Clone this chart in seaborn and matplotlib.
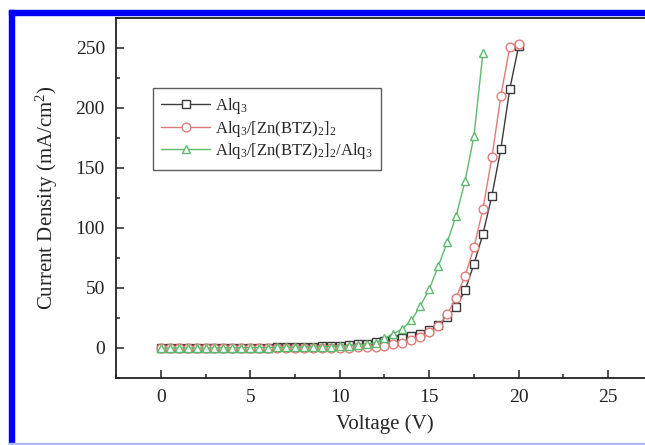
import numpy as np
import pandas as pd
import matplotlib
matplotlib.use("Agg")
import matplotlib.pyplot as plt
from matplotlib.patches import Rectangle
from matplotlib.ticker import MultipleLocator
import seaborn as sns

# ---- data (current density in mA/cm^2) ----
voltage = [0.0, 0.5, 1.0, 1.5, 2.0, 2.5, 3.0, 3.5, 4.0, 4.5, 5.0, 5.5, 6.0, 6.5,
           7.0, 7.5, 8.0, 8.5, 9.0, 9.5, 10.0, 10.5, 11.0, 11.5, 12.0, 12.5,
           13.0, 13.5, 14.0, 14.5, 15.0, 15.5, 16.0, 16.5, 17.0, 17.5, 18.0,
           18.5, 19.0, 19.5, 20.0]

alq3 = [0.0, 0.0, 0.0, 0.0, 0.0, 0.0, 0.0, 0.1, 0.1, 0.2, 0.2, 0.3, 0.4, 0.5,
        0.6, 0.8, 1.0, 1.2, 1.4, 1.7, 2.0, 2.4, 3.0, 3.7, 4.6, 5.8, 7.2, 8.7,
        10.0, 12.0, 15.0, 19.0, 26.0, 34.0, 48.0, 70.0, 95.0, 127.0, 166.0,
        216.0, 252.0]

alq3_zn = [0.0, 0.0, 0.0, 0.0, 0.0, 0.0, 0.0, 0.0, 0.0, 0.0, 0.0, 0.0, 0.0,
           0.0, 0.0, 0.0, 0.0, 0.0, 0.0, 0.1, 0.2, 0.3, 0.5, 0.8, 1.2, 2.0,
           3.0, 4.5, 7.0, 9.0, 13.0, 18.0, 28.0, 42.0, 60.0, 84.0, 116.0,
           159.0, 210.0, 251.0, 253.0]

voltage_green = voltage[:37]
alq3_zn_alq3 = [0.0, 0.0, 0.0, 0.0, 0.0, 0.0, 0.1, 0.1, 0.2, 0.2, 0.3, 0.3,
                0.4, 0.5, 0.6, 0.7, 0.8, 0.9, 1.0, 1.2, 1.5, 2.0, 2.5, 3.2,
                4.5, 8.0, 12.0, 16.0, 23.0, 35.0, 49.0, 68.0, 88.0, 110.0,
                139.0, 177.0, 246.0]

labels = [r"Alq$_3$",
          r"Alq$_3$/[Zn(BTZ)$_2$]$_2$",
          r"Alq$_3$/[Zn(BTZ)$_2$]$_2$/Alq$_3$"]
colors = ["#3a3a3a", "#e07a78", "#5dba6c"]
markers = ["s", "o", "^"]

df = pd.concat([
    pd.DataFrame({"Voltage": voltage, "J": alq3, "device": labels[0]}),
    pd.DataFrame({"Voltage": voltage, "J": alq3_zn, "device": labels[1]}),
    pd.DataFrame({"Voltage": voltage_green, "J": alq3_zn_alq3, "device": labels[2]}),
], ignore_index=True)

sns.set_style("ticks")
plt.rcParams["font.family"] = ["Liberation Serif", "DejaVu Serif"]
plt.rcParams["mathtext.fontset"] = "stix"
plt.rcParams["mathtext.default"] = "regular"

fig = plt.figure(figsize=(6.45, 4.45), dpi=100)
# axes run past the right edge, as in the cropped reference
ax = fig.add_axes([116 / 645, 1 - 378 / 445, (653 - 116) / 645, 360 / 445])

sns.lineplot(data=df, x="Voltage", y="J", hue="device", style="device",
             hue_order=labels, style_order=labels,
             palette=dict(zip(labels, colors)),
             markers=dict(zip(labels, markers)), dashes=False,
             linewidth=1.0, markersize=6.3, legend=False, ax=ax)

for line, c in zip(ax.lines, colors):
    line.set_markerfacecolor("white")
    line.set_markeredgecolor(c)
    line.set_markeredgewidth(1.0)
    line.set_color(c)

ax.set_xlim(-2.5, 27.5)
ax.set_ylim(-25, 275)
ax.xaxis.set_major_locator(MultipleLocator(5))
ax.xaxis.set_minor_locator(MultipleLocator(2.5))
ax.yaxis.set_major_locator(MultipleLocator(50))
ax.yaxis.set_minor_locator(MultipleLocator(25))
ax.tick_params(which="both", direction="in", width=1.1, labelsize=14, colors="#222222")
ax.tick_params(which="major", length=6, pad=8)
ax.tick_params(which="minor", length=3)
for side in ["left", "bottom", "top", "right"]:
    ax.spines[side].set_visible(True)
    ax.spines[side].set_linewidth(1.3)
    ax.spines[side].set_color("#222222")

ax.set_xlabel("Voltage (V)", fontsize=15, labelpad=6)
ax.set_ylabel(r"Current Density (mA/cm$^2$)", fontsize=15, labelpad=11)

leg = ax.legend(ax.lines, labels, loc="upper left", bbox_to_anchor=(0.069, 0.806),
                borderaxespad=0, fontsize=12, frameon=True, fancybox=False,
                edgecolor="#333333", handlelength=2.9, labelspacing=0.15,
                handletextpad=0.3, borderpad=0.5)
leg.get_frame().set_linewidth(1.0)

# blue frame around the figure, as in the reference screenshot
fig.patches.append(Rectangle((9 / 645, 1 - 15 / 445), 1, 5 / 445,
                             transform=fig.transFigure, color="#0000ff", zorder=10))
fig.patches.append(Rectangle((9 / 645, 0), 5 / 645, 1 - 10 / 445,
                             transform=fig.transFigure, color="#0000ff", zorder=10))
fig.patches.append(Rectangle((9 / 645, 0), 1, 2 / 445,
                             transform=fig.transFigure, color="#b4b8ff", zorder=10))

fig.savefig("out.png", dpi=100)
